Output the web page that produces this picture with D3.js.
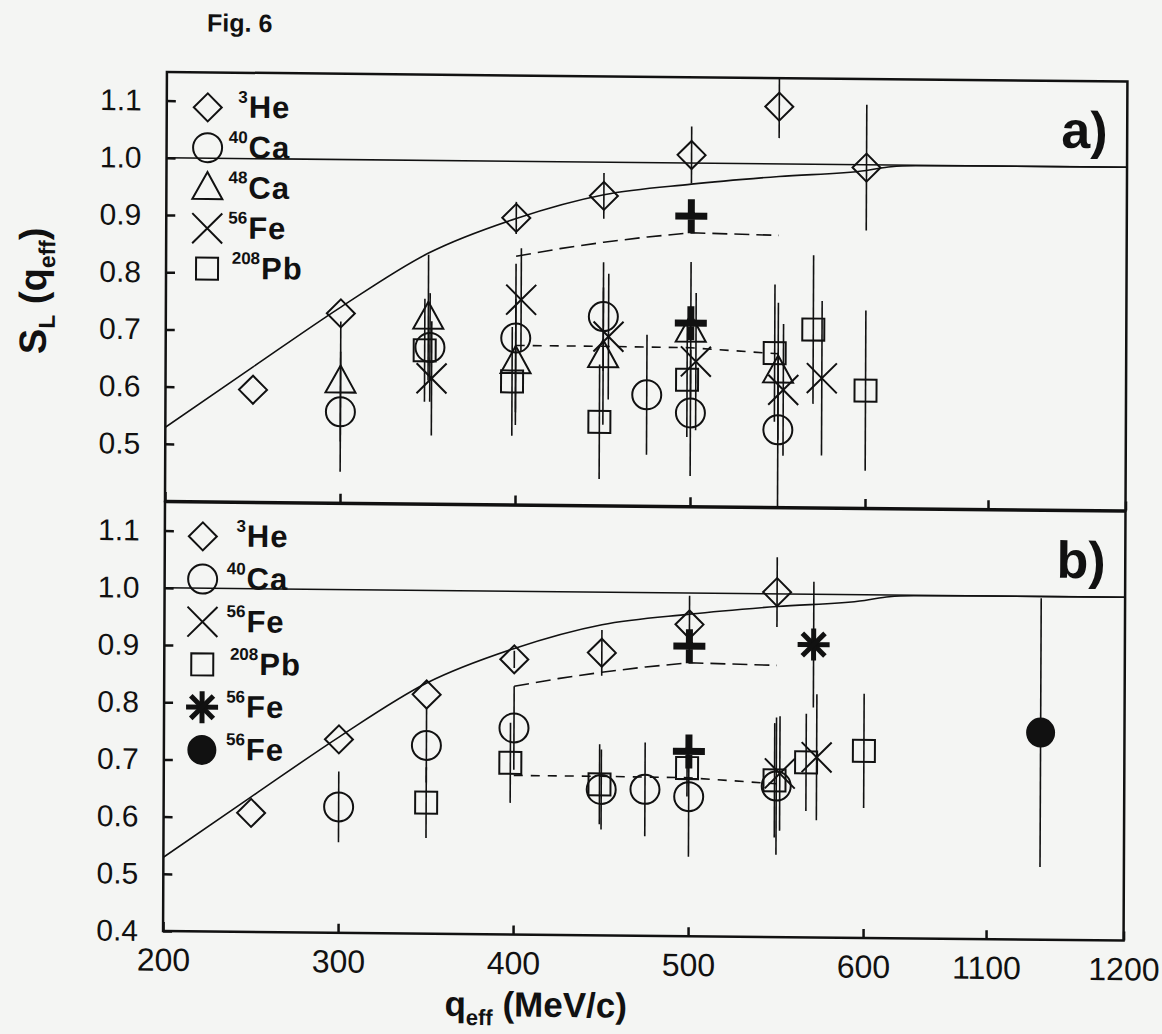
<!DOCTYPE html>
<html>
<head>
<meta charset="utf-8">
<title>Fig. 6</title>
<script src="https://d3js.org/d3.v7.min.js"></script>
<style>
  body { margin: 0; background: #f4f5f3; }
  svg { display: block; }
  text { font-family: "Liberation Sans", Arial, sans-serif; fill: #111; }
</style>
</head>
<body>
<div id="chart"></div>
<script>
// axis ticks (x axis is broken between 600 and 1100)
var xTicks = [200, 300, 400, 500, 600, 1100, 1200];
var yTicksA = [0.5, 0.6, 0.7, 0.8, 0.9, 1.0, 1.1];
var yTicksB = [0.4, 0.5, 0.6, 0.7, 0.8, 0.9, 1.0, 1.1];

// theory curves (same in both panels)
var solidQ = [200, 250, 300, 350, 400, 450, 500, 550, 600, 700, 800, 1100, 1200];
var solidS = [0.529, 0.636, 0.742, 0.838, 0.90, 0.943, 0.963, 0.978, 0.99, 0.997, 0.999, 1.0, 1.0];
var longDashQ = [400, 425, 450, 475, 500, 550];
var longDashS = [0.834, 0.848, 0.86, 0.870, 0.878, 0.875];
var shortDashQ = [400, 450, 500, 550];
var shortDashS = [0.678, 0.678, 0.677, 0.668];

// panel a)  [q_eff, S_L, error]
var heA  = [[250, 0.596, 0], [300, 0.731, 0], [400, 0.901, 0.028], [450, 0.941, 0.04],
            [500, 1.014, 0.05], [550, 1.10, 0.055], [600, 0.995, 0.11]];
var ca40A = [[300, 0.559, 0.105], [351, 0.673, 0.095], [400, 0.691, 0.13], [450, 0.73, 0.095],
             [475, 0.594, 0.105], [500, 0.563, 0.11], [550, 0.535, 0.135]];
var ca48A = [[300, 0.612, 0.105], [350, 0.725, 0.11], [400, 0.649, 0.11], [450, 0.661, 0.12],
             [500, 0.707, 0.12], [550, 0.637, 0.12]];
var feA  = [[352, 0.619, 0.1], [403, 0.758, 0.09], [453, 0.695, 0.11], [503, 0.653, 0.12],
            [553, 0.605, 0.115], [575, 0.626, 0.135]];
var pbA  = [[348, 0.668, 0.09], [398, 0.615, 0.095], [448, 0.546, 0.1], [498, 0.621, 0.1],
            [548, 0.669, 0.12], [570, 0.711, 0.13], [600, 0.605, 0.14]];
var plusA = [[500, 0.907], [500, 0.72]];

// panel b)
var heB  = [[250, 0.608, 0], [300, 0.738, 0], [350, 0.818, 0], [400, 0.881, 0.015],
            [450, 0.894, 0.04], [500, 0.945, 0.05], [550, 1.003, 0.061]];
var ca40B = [[300, 0.62, 0.062], [350, 0.729, 0.065], [400, 0.761, 0.073], [450, 0.655, 0.07],
             [475, 0.656, 0.082], [500, 0.644, 0.105], [550, 0.664, 0.12]];
var feB  = [[552, 0.686, 0.1], [573, 0.715, 0.11]];
var pbB  = [[350, 0.629, 0.062], [398, 0.70, 0.07], [449, 0.664, 0.07], [499, 0.694, 0.05],
            [549, 0.674, 0.1], [567, 0.706, 0.085], [600, 0.727, 0.1]];
var starB = [[571, 0.912, 0.11]];
var dotB  = [[1139, 0.762, 0.235]];
var plusB = [[500, 0.907], [500, 0.723]];

var legendA = [['diamond', '3', 'He'], ['circle', '40', 'Ca'], ['triangle', '48', 'Ca'],
               ['cross', '56', 'Fe'], ['square', '208', 'Pb']];
var legendB = [['diamond', '3', 'He'], ['circle', '40', 'Ca'], ['cross', '56', 'Fe'],
               ['square', '208', 'Pb'], ['star', '56', 'Fe'], ['dot', '56', 'Fe']];

var x = d3.scaleLinear().domain([200, 600, 1100, 1200]).range([165, 865, 988, 1125.5]);
var yA = d3.scaleLinear().domain([0.4, 1.15]).range([501, 72]);
var yB = d3.scaleLinear().domain([0.4, 1.15]).range([931, 502]);

var panels = [
  {id: 'a', y: yA, ticks: yTicksA, label: 'a)', legend: legendA, legTop: 117, legStep: 40.3, legX: 206,
   series: [['diamond', heA], ['circle', ca40A], ['triangle', ca48A], ['cross', feA], ['square', pbA]],
   plus: plusA},
  {id: 'b', y: yB, ticks: yTicksB, label: 'b)', legend: legendB, legTop: 546, legStep: 42.7, legX: 203,
   series: [['diamond', heB], ['circle', ca40B], ['cross', feB], ['square', pbB], ['star', starB], ['dot', dotB]],
   plus: plusB}
];

var svg = d3.select('#chart').append('svg').attr('width', 1162).attr('height', 1034);
// slight skew of the scanned page
var root = svg.append('g').attr('transform', 'matrix(1,0.0099,-0.0045,1,2.25,-1.63)');

function marker(g, type, cx, cy) {
  var s = g.append('g').attr('stroke', '#111').attr('fill', 'none').attr('stroke-width', 2);
  if (type == 'diamond') {
    s.append('path').attr('d', 'M' + cx + ',' + (cy - 14) + 'L' + (cx + 14) + ',' + cy +
      'L' + cx + ',' + (cy + 14) + 'L' + (cx - 14) + ',' + cy + 'Z');
  } else if (type == 'circle') {
    s.append('circle').attr('cx', cx).attr('cy', cy).attr('r', 14.5);
  } else if (type == 'triangle') {
    s.append('path').attr('d', 'M' + cx + ',' + (cy - 16) + 'L' + (cx + 15) + ',' + (cy + 11) +
      'L' + (cx - 15) + ',' + (cy + 11) + 'Z');
  } else if (type == 'cross') {
    s.append('path').attr('d', 'M' + (cx - 15) + ',' + (cy - 15) + 'L' + (cx + 15) + ',' + (cy + 15) +
      'M' + (cx - 15) + ',' + (cy + 15) + 'L' + (cx + 15) + ',' + (cy - 15));
  } else if (type == 'square') {
    s.append('rect').attr('x', cx - 11).attr('y', cy - 11).attr('width', 22).attr('height', 22);
  } else if (type == 'star') {
    s.attr('stroke-width', 5);
    [0, 45, 90, 135].forEach(function(a) {
      var dx = 16 * Math.cos(a * Math.PI / 180), dy = 16 * Math.sin(a * Math.PI / 180);
      s.append('line').attr('x1', cx - dx).attr('y1', cy - dy).attr('x2', cx + dx).attr('y2', cy + dy);
    });
  } else if (type == 'dot') {
    s.append('ellipse').attr('cx', cx).attr('cy', cy).attr('rx', 13.5).attr('ry', 14).attr('fill', '#111');
  } else if (type == 'plus') {
    s.attr('stroke-width', 7);
    s.append('path').attr('d', 'M' + (cx - 16) + ',' + cy + 'L' + (cx + 16) + ',' + cy +
      'M' + cx + ',' + (cy - 17) + 'L' + cx + ',' + (cy + 17));
  }
}

panels.forEach(function(p) {
  var y = p.y;
  var top = y.range()[1], bot = y.range()[0];
  var g = root.append('g');

  svg.append('clipPath').attr('id', 'clip' + p.id).append('rect')
    .attr('x', 165).attr('y', top).attr('width', 1125.5 - 165).attr('height', bot - top);
  var plot = g.append('g').attr('clip-path', 'url(#clip' + p.id + ')');

  // reference line S = 1
  plot.append('line').attr('x1', x(200)).attr('x2', x(1200)).attr('y1', y(1)).attr('y2', y(1))
    .attr('stroke', '#111').attr('stroke-width', 1.6);

  var line = d3.line().x(function(d) { return x(d[0]); }).y(function(d) { return y(d[1]); });
  plot.append('path').attr('d', line.curve(d3.curveMonotoneX)(d3.zip(solidQ, solidS)))
    .attr('fill', 'none').attr('stroke', '#111').attr('stroke-width', 1.6);
  plot.append('path').attr('d', line.curve(d3.curveLinear)(d3.zip(longDashQ, longDashS)))
    .attr('fill', 'none').attr('stroke', '#111').attr('stroke-width', 1.6).attr('stroke-dasharray', '15,7');
  plot.append('path').attr('d', line(d3.zip(shortDashQ, shortDashS)))
    .attr('fill', 'none').attr('stroke', '#111').attr('stroke-width', 1.6).attr('stroke-dasharray', '9,8');

  // error bars
  p.series.forEach(function(s) {
    s[1].forEach(function(d) {
      if (d[2] > 0) {
        plot.append('line').attr('x1', x(d[0])).attr('x2', x(d[0]))
          .attr('y1', y(d[1] - d[2])).attr('y2', y(d[1] + d[2]))
          .attr('stroke', '#111').attr('stroke-width', 1.6);
      }
    });
  });
  // markers
  p.series.forEach(function(s) {
    s[1].forEach(function(d) { marker(plot, s[0], x(d[0]), y(d[1])); });
  });
  p.plus.forEach(function(d) { marker(plot, 'plus', x(d[0]), y(d[1])); });

  // axes
  var ya = g.append('g').attr('transform', 'translate(165,0)')
    .call(d3.axisLeft(y).tickValues(p.ticks).tickFormat(d3.format('.1f')).tickSizeInner(-9).tickSizeOuter(0).tickPadding(25));
  ya.select('.domain').remove();
  ya.selectAll('line').attr('stroke', '#111').attr('stroke-width', 2.5);
  ya.selectAll('text').style('font-size', '30px').attr('fill', '#111');

  var xa = g.append('g').attr('transform', 'translate(0,' + bot + ')')
    .call(d3.axisBottom(x).tickValues(xTicks).tickFormat(p.id == 'b' ? d3.format('d') : '')
      .tickSizeInner(-9).tickSizeOuter(0).tickPadding(17));
  xa.select('.domain').remove();
  xa.selectAll('line').attr('stroke', '#111').attr('stroke-width', 2.5);
  xa.selectAll('text').style('font-size', '32px').attr('fill', '#111');

  // frame
  g.append('rect').attr('x', 165).attr('y', top).attr('width', 1125.5 - 165).attr('height', bot - top)
    .attr('fill', 'none').attr('stroke', '#111').attr('stroke-width', 2.5);

  // legend
  p.legend.forEach(function(e, i) {
    var base = p.legTop + i * p.legStep;
    marker(g, e[0], p.legX, base - 10);
    var mx = e[1].length > 2 ? 260 : 247;
    g.append('text').attr('x', mx - 1).attr('y', base - 15).attr('text-anchor', 'end')
      .style('font-size', '17px').style('font-weight', 'bold').text(e[1]);
    g.append('text').attr('x', mx).attr('y', base)
      .style('font-size', '31px').style('font-weight', 'bold').style('letter-spacing', '1px').text(e[2]);
  });

  g.append('text').attr('x', 1106).attr('y', top + 67).attr('text-anchor', 'end')
    .style('font-size', '52px').style('font-weight', 'bold').text(p.label);
});

// titles
root.append('text').attr('x', 205).attr('y', 31)
  .style('font-size', '25px').style('font-weight', 'bold').text('Fig. 6');

var yt = root.append('text').attr('transform', 'translate(45,292) rotate(-90)')
  .attr('text-anchor', 'middle').style('font-weight', 'bold').style('font-size', '38px');
yt.append('tspan').text('S');
yt.append('tspan').attr('dy', 9).style('font-size', '23px').text('L');
yt.append('tspan').attr('dy', -9).text(' (q');
yt.append('tspan').attr('dy', 9).style('font-size', '23px').text('eff');
yt.append('tspan').attr('dy', -9).text(')');

var xt = root.append('text').attr('x', 538).attr('y', 1013)
  .attr('text-anchor', 'middle').style('font-weight', 'bold').style('font-size', '35px');
xt.append('tspan').text('q');
xt.append('tspan').attr('dy', 9).style('font-size', '22px').text('eff');
xt.append('tspan').attr('dy', -9).text(' (MeV/c)');
</script>
</body>
</html>
